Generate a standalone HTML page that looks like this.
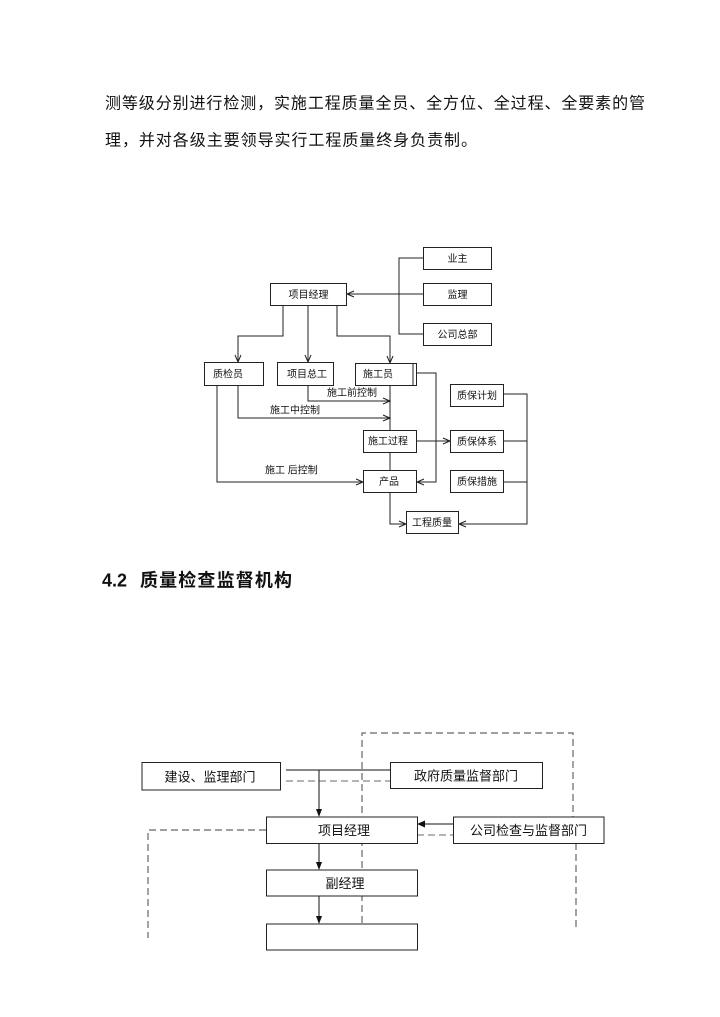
<!DOCTYPE html>
<html><head><meta charset="utf-8"><style>
html,body{margin:0;padding:0;background:#fff;}
svg{display:block;}
text{font-family:"Liberation Sans","Noto Sans CJK SC",sans-serif;fill:#111;}
</style></head><body>
<svg width="720" height="1017" viewBox="0 0 720 1017" xmlns="http://www.w3.org/2000/svg">
<!-- paragraph -->
<text x="105" y="108.5" font-size="16" textLength="540" lengthAdjust="spacing">测等级分别进行检测，实施工程质量全员、全方位、全过程、全要素的管</text>
<text x="105" y="145.5" font-size="16" textLength="372" lengthAdjust="spacing">理，并对各级主要领导实行工程质量终身负责制。</text>

<!-- Diagram 1 -->
<g stroke="#222" stroke-width="1" fill="none">
  <!-- right bracket top -->
  <polyline points="423,258 399,258 399,334 423,334"/>
  <line x1="399" y1="294" x2="423" y2="294"/>
  <line x1="347" y1="294" x2="399" y2="294"/>
  <!-- from PM down -->
  <polyline points="283,306 283,336 238,336 238,362"/>
  <line x1="308" y1="306" x2="308" y2="362"/>
  <polyline points="337,306 337,336 390,336 390,363"/>
  <!-- 质检员 down -->
  <polyline points="217,386 217,482 363,482"/>
  <polyline points="238,386 238,418 390,418"/>
  <!-- 项目总工 -->
  <polyline points="308,386 308,401 390,401"/>
  <!-- main vertical -->
  <line x1="390" y1="386" x2="390" y2="430"/>
  <line x1="390" y1="453" x2="390" y2="470"/>
  <polyline points="390,493 390,524 406,524"/>
  <!-- 施工员 right -->
  <polyline points="416,373 436,373 436,482 417,482"/>
  <!-- 施工过程 -> 质保体系 -->
  <line x1="417" y1="441" x2="450" y2="441"/>
  <!-- right bracket bottom -->
  <polyline points="504,394 527,394 527,524 459,524"/>
  <line x1="504" y1="441" x2="527" y2="441"/>
  <line x1="504" y1="482" x2="527" y2="482"/>
  <!-- arrowheads (open chevrons) -->
  <polyline points="354,291 347,294 354,297"/>
  <polyline points="235,355 238,362 241,355"/>
  <polyline points="305,355 308,362 311,355"/>
  <polyline points="387,356 390,363 393,356"/>
  <polyline points="383,398 390,401 383,404"/>
  <polyline points="383,415 390,418 383,421"/>
  <polyline points="356,479 363,482 356,485"/>
  <polyline points="424,479 417,482 424,485"/>
  <polyline points="443,438 450,441 443,444"/>
  <polyline points="399,521 406,524 399,527"/>
  <polyline points="466,521 459,524 466,527"/>
</g>
<g stroke="#222" stroke-width="1" fill="#fff">
  <rect x="270.5" y="283.5" width="76" height="22"/>
  <rect x="423.5" y="247.5" width="68" height="22"/>
  <rect x="423.5" y="283.5" width="68" height="22"/>
  <rect x="423.5" y="323.5" width="68" height="22"/>
  <rect x="204.5" y="362.5" width="59" height="23"/>
  <rect x="277.5" y="362.5" width="56" height="23"/>
  <rect x="355.5" y="363.5" width="61" height="22"/>
  <line x1="413" y1="364" x2="413" y2="386"/>
  <rect x="363.5" y="430.5" width="53" height="22"/>
  <rect x="363.5" y="470.5" width="53" height="22"/>
  <rect x="450.5" y="384.5" width="53" height="22"/>
  <rect x="450.5" y="430.5" width="53" height="22"/>
  <rect x="450.5" y="470.5" width="53" height="22"/>
  <rect x="406.5" y="511.5" width="52" height="22"/>
</g>
<g font-size="10">
  <text x="308.5" y="298" text-anchor="middle">项目经理</text>
  <text x="457.5" y="262" text-anchor="middle">业主</text>
  <text x="457.5" y="298" text-anchor="middle">监理</text>
  <text x="457.5" y="338" text-anchor="middle">公司总部</text>
  <text x="213" y="377.5">质检员</text>
  <text x="287" y="377.5">项目总工</text>
  <text x="363" y="377.5">施工员</text>
  <text x="327" y="396">施工前控制</text>
  <text x="270" y="413.5">施工中控制</text>
  <text x="265" y="473.5" xml:space="preserve">施工 后控制</text>
  <text x="388" y="444.5" text-anchor="middle">施工过程</text>
  <text x="389" y="485" text-anchor="middle">产品</text>
  <text x="432" y="526" text-anchor="middle">工程质量</text>
  <text x="477" y="399" text-anchor="middle">质保计划</text>
  <text x="477" y="445" text-anchor="middle">质保体系</text>
  <text x="477" y="485" text-anchor="middle">质保措施</text>
</g>

<!-- heading -->
<text x="102" y="586.5" font-size="18" font-weight="bold">4.2</text>
<text x="140" y="586.5" font-size="18" font-weight="bold" textLength="152" lengthAdjust="spacing">质量检查监督机构</text>

<!-- Diagram 2 -->
<g stroke="#666" stroke-width="1.2" fill="none" stroke-dasharray="7,4">
  <polyline points="362,923 362,733 573,733 573,817"/>
  <line x1="576" y1="843" x2="576" y2="927"/>
  <polyline points="266,830 148,830 148,938"/>
  <line x1="286" y1="781" x2="390" y2="781" stroke="#888"/>
  <line x1="417" y1="835" x2="453" y2="835" stroke="#888"/>
</g>
<g stroke="#111" stroke-width="1" fill="none">
  <line x1="286" y1="770" x2="390" y2="770"/>
  <line x1="319" y1="770" x2="319" y2="812"/>
  <line x1="319" y1="843" x2="319" y2="865"/>
  <line x1="319" y1="896" x2="319" y2="919"/>
  <line x1="423" y1="824" x2="453" y2="824"/>
</g>
<g fill="#111">
  <polygon points="316,809 322,809 319,817"/>
  <polygon points="316,862 322,862 319,870"/>
  <polygon points="316,916 322,916 319,924"/>
  <polygon points="425,820.5 425,827.5 417,824"/>
</g>
<g stroke="#222" stroke-width="1" fill="#fff">
  <rect x="142" y="762.5" width="138.5" height="27.5"/>
  <rect x="390.5" y="762.5" width="152" height="26"/>
  <rect x="266.5" y="817" width="151" height="26.5"/>
  <rect x="453.5" y="817" width="150.5" height="26.5"/>
  <rect x="266.5" y="870" width="151" height="26"/>
  <rect x="266.5" y="924" width="151" height="26"/>
</g>
<g font-size="13">
  <text x="210" y="781.5" text-anchor="middle">建设、监理部门</text>
  <text x="466" y="780.5" text-anchor="middle">政府质量监督部门</text>
  <text x="344" y="835" text-anchor="middle">项目经理</text>
  <text x="528.5" y="835" text-anchor="middle">公司检查与监督部门</text>
  <text x="345" y="888" text-anchor="middle">副经理</text>
</g>
</svg>
</body></html>
